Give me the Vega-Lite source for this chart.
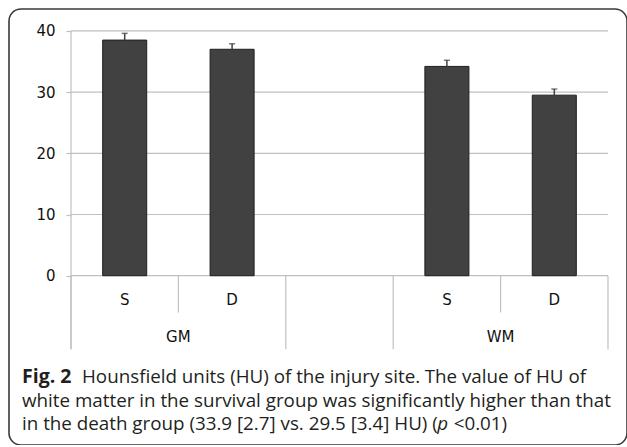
{
  "$schema": "https://vega.github.io/schema/vega-lite/v6.json",
  "width": 618,
  "height": 436,
  "autosize": {"type": "none"},
  "padding": {"left": 9, "top": 9, "right": 0, "bottom": 0},
  "background": "white",
  "datasets": {
    "bars": [
      {"slot": "GM S", "group": "GM", "sub": "S", "mean": 38.5, "upper": 39.6},
      {"slot": "GM D", "group": "GM", "sub": "D", "mean": 37.0, "upper": 37.9},
      {"slot": "WM S", "group": "WM", "sub": "S", "mean": 34.2, "upper": 35.2},
      {"slot": "WM D", "group": "WM", "sub": "D", "mean": 29.5, "upper": 30.5}
    ],
    "gridvals": [{"v": 0}, {"v": 10}, {"v": 20}, {"v": 30}, {"v": 40}],
    "caption": [
      {"part": "fig", "text": "Fig. 2"},
      {"part": "l1", "text": "Hounsfield units (HU) of the injury site."},
      {"part": "l1b", "text": "The value of HU of"},
      {"part": "l2", "text": "white matter in the survival group was significantly higher than that"},
      {"part": "l3", "text": "in the death group (33.9 [2.7] vs. 29.5 [3.4] HU) ("},
      {"part": "p", "text": "p"},
      {"part": "l3b", "text": "<0.01)"}
    ]
  },
  "config": {
    "view": {"stroke": "#3a3a3a", "strokeWidth": 1.6, "cornerRadius": 12},
    "axisX": {"disable": true},
    "text": {"font": "Open Sans", "fontSize": 18.8, "color": "#231f20", "align": "left", "baseline": "alphabetic"}
  },
  "layer": [
    {
      "data": {"name": "gridvals"},
      "mark": {"type": "rule", "color": "#c0c0c0", "strokeWidth": 1.2},
      "encoding": {
        "x": {"datum": "GM S", "type": "nominal", "bandPosition": 0},
        "x2": {"datum": "WM D", "bandPosition": 1},
        "y": {"field": "v", "type": "quantitative", "title": null}
      }
    },
    {
      "data": {"name": "bars"},
      "mark": {"type": "bar", "width": {"band": 0.41}, "color": "#414141", "stroke": "#1f1f1f", "strokeWidth": 1},
      "encoding": {
        "x": {
          "field": "slot", "type": "nominal",
          "scale": {"domain": ["GM S", "GM D", "gap", "WM S", "WM D"], "paddingInner": 0, "paddingOuter": 0.3771, "align": 0.7654, "round": false}
        },
        "y": {
          "field": "mean", "type": "quantitative", "title": null,
          "scale": {"domain": [-27.66, 43.58], "nice": false, "zero": false},
          "axis": {"values": [0, 10, 20, 30, 40], "grid": false, "domain": false, "ticks": true, "tickSize": 5, "tickColor": "#c0c0c0", "tickWidth": 1.2, "offset": -62, "labelPadding": 11, "labelFont": "DejaVu Sans", "labelFontSize": 15, "labelColor": "#111"}
        }
      }
    },
    {
      "data": {"name": "bars"},
      "mark": {"type": "rule", "color": "#404040", "strokeWidth": 1.5},
      "encoding": {
        "x": {"field": "slot", "type": "nominal"},
        "y": {"field": "mean", "type": "quantitative", "title": null},
        "y2": {"field": "upper"}
      }
    },
    {
      "data": {"name": "bars"},
      "mark": {"type": "tick", "color": "#404040", "thickness": 1.5, "size": 6},
      "encoding": {
        "x": {"field": "slot", "type": "nominal"},
        "y": {"field": "upper", "type": "quantitative", "title": null}
      }
    },
    {
      "data": {"name": "bars"},
      "transform": [{"filter": "datum.slot === 'GM S'"}],
      "mark": {"type": "rule", "color": "#c0c0c0", "strokeWidth": 1.2},
      "encoding": {
        "x": {"field": "slot", "type": "nominal", "bandPosition": 0},
        "y": {"datum": 40, "type": "quantitative"},
        "y2": {"datum": -12}
      }
    },
    {
      "data": {"name": "bars"},
      "transform": [{"filter": "datum.sub === 'S'"}],
      "mark": {"type": "rule", "color": "#c0c0c0", "strokeWidth": 1.2},
      "encoding": {
        "x": {"field": "slot", "type": "nominal", "bandPosition": 0},
        "y": {"datum": 0, "type": "quantitative"},
        "y2": {"datum": -12}
      }
    },
    {
      "data": {"name": "bars"},
      "transform": [{"filter": "datum.sub === 'D'"}],
      "mark": {"type": "rule", "color": "#c0c0c0", "strokeWidth": 1.2},
      "encoding": {
        "x": {"field": "slot", "type": "nominal", "bandPosition": 0},
        "y": {"datum": 0, "type": "quantitative"},
        "y2": {"datum": -6}
      }
    },
    {
      "data": {"name": "bars"},
      "transform": [{"filter": "datum.sub === 'D'"}],
      "mark": {"type": "rule", "color": "#c0c0c0", "strokeWidth": 1.2},
      "encoding": {
        "x": {"field": "slot", "type": "nominal", "bandPosition": 1},
        "y": {"datum": 0, "type": "quantitative"},
        "y2": {"datum": -12}
      }
    },
    {
      "data": {"name": "bars"},
      "mark": {"type": "text", "font": "DejaVu Sans", "fontSize": 15, "color": "#111", "baseline": "middle", "align": "center"},
      "encoding": {
        "x": {"field": "slot", "type": "nominal"},
        "y": {"datum": -3.95, "type": "quantitative"},
        "text": {"field": "sub"}
      }
    },
    {
      "data": {"name": "bars"},
      "transform": [{"filter": "datum.sub === 'D'"}],
      "mark": {"type": "text", "font": "DejaVu Sans", "fontSize": 15, "color": "#111", "baseline": "middle", "align": "center"},
      "encoding": {
        "x": {"field": "slot", "type": "nominal", "bandPosition": 0},
        "y": {"datum": -10, "type": "quantitative"},
        "text": {"field": "group"}
      }
    },
    {
      "data": {"name": "caption"},
      "transform": [{"filter": "datum.part === 'fig'"}],
      "mark": {"type": "text", "fontSize": 19.5, "fontWeight": "bold", "dx": -102.7},
      "encoding": {
        "x": {"datum": "GM S", "type": "nominal"},
        "y": {"datum": -17.58, "type": "quantitative"},
        "text": {"field": "text"}
      }
    },
    {
      "data": {"name": "caption"},
      "transform": [{"filter": "datum.part === 'l1'"}],
      "mark": {"type": "text", "dx": -42.7},
      "encoding": {
        "x": {"datum": "GM S", "type": "nominal"},
        "y": {"datum": -17.58, "type": "quantitative"},
        "text": {"field": "text"}
      }
    },
    {
      "data": {"name": "caption"},
      "transform": [{"filter": "datum.part === 'l1b'"}],
      "mark": {"type": "text", "dx": 300},
      "encoding": {
        "x": {"datum": "GM S", "type": "nominal"},
        "y": {"datum": -17.58, "type": "quantitative"},
        "text": {"field": "text"}
      }
    },
    {
      "data": {"name": "caption"},
      "transform": [{"filter": "datum.part === 'l2'"}],
      "mark": {"type": "text", "dx": -102.7},
      "encoding": {
        "x": {"datum": "GM S", "type": "nominal"},
        "y": {"datum": -21.41, "type": "quantitative"},
        "text": {"field": "text"}
      }
    },
    {
      "data": {"name": "caption"},
      "transform": [{"filter": "datum.part === 'l3'"}],
      "mark": {"type": "text", "dx": -102.7},
      "encoding": {
        "x": {"datum": "GM S", "type": "nominal"},
        "y": {"datum": -25.21, "type": "quantitative"},
        "text": {"field": "text"}
      }
    },
    {
      "data": {"name": "caption"},
      "transform": [{"filter": "datum.part === 'p'"}],
      "mark": {"type": "text", "fontStyle": "italic", "dx": 312.5},
      "encoding": {
        "x": {"datum": "GM S", "type": "nominal"},
        "y": {"datum": -25.21, "type": "quantitative"},
        "text": {"field": "text"}
      }
    },
    {
      "data": {"name": "caption"},
      "transform": [{"filter": "datum.part === 'l3b'"}],
      "mark": {"type": "text", "dx": 329},
      "encoding": {
        "x": {"datum": "GM S", "type": "nominal"},
        "y": {"datum": -25.21, "type": "quantitative"},
        "text": {"field": "text"}
      }
    }
  ]
}
